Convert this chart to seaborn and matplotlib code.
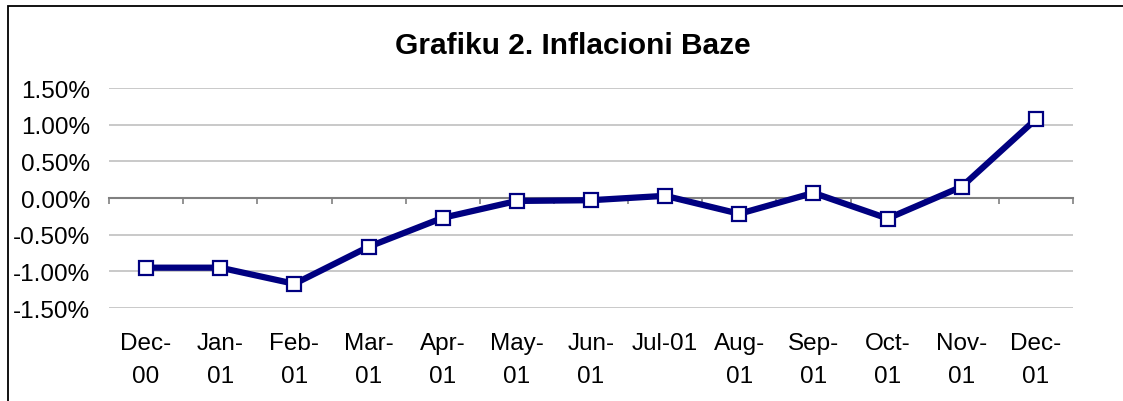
import matplotlib
matplotlib.use("Agg")
import matplotlib.pyplot as plt
import seaborn as sns
import pandas as pd
import numpy as np
from matplotlib.ticker import FuncFormatter
from matplotlib.patches import Rectangle

# ---- data ----
months = ["Dec-\n00", "Jan-\n01", "Feb-\n01", "Mar-\n01", "Apr-\n01", "May-\n01",
          "Jun-\n01", "Jul-01", "Aug-\n01", "Sep-\n01", "Oct-\n01", "Nov-\n01", "Dec-\n01"]
values = [-0.95, -0.95, -1.17, -0.665, -0.27, -0.04, -0.03, 0.03,
          -0.215, 0.07, -0.28, 0.155, 1.075]
y_ticks = [-1.5, -1.0, -0.5, 0.0, 0.5, 1.0, 1.5]
title = "Grafiku 2. Inflacioni Baze"

df = pd.DataFrame({"pos": np.arange(len(months)), "value": values})

sns.set_theme(style="white")
plt.rcParams['font.family'] = ['Liberation Sans', 'DejaVu Sans']
plt.rcParams['text.color'] = 'black'

fig = plt.figure(figsize=(11.23, 4.02), dpi=100)
ax = fig.add_axes([0.0971, 0.2313, 0.8584, 0.5473])

sns.lineplot(data=df, x="pos", y="value", ax=ax, color="#000080", linewidth=4.5,
             marker="s", markersize=10, markerfacecolor="white",
             markeredgecolor="#000080", markeredgewidth=1.6, zorder=5)

ax.set_xlim(-0.5, len(months) - 0.5)
ax.set_ylim(-1.5, 1.5)
ax.set_yticks(y_ticks)
ax.yaxis.set_major_formatter(FuncFormatter(lambda v, p: f"{v:.2f}%"))
ax.grid(axis='y', color='#c0c0c0', linewidth=1.2)
ax.grid(axis='x', visible=False)
ax.set_axisbelow(True)
ax.set_xlabel("")
ax.set_ylabel("")

for s in ["left", "right", "top"]:
    ax.spines[s].set_visible(False)
ax.spines["bottom"].set_position(("data", 0))
ax.spines["bottom"].set_color("#808080")
ax.spines["bottom"].set_linewidth(1.5)
ax.spines["bottom"].set_zorder(2)

ax.set_xticks(np.arange(-0.5, len(months), 1.0))
ax.tick_params(axis='x', bottom=True, direction='out', length=4.5, width=1.2,
               color='#808080', labelbottom=False)
ax.tick_params(axis='y', left=False, length=0, pad=13.5, labelsize=17.5, labelcolor='black')

secax = ax.secondary_xaxis('bottom')
secax.set_xticks(np.arange(len(months)), labels=months)
secax.tick_params(length=0, pad=17.5, labelsize=17.5, labelcolor='black')
secax.spines['bottom'].set_visible(False)
for lbl in secax.get_xticklabels():
    lbl.set_linespacing(1.6)

fig.text(0.51, 0.886, title, ha='center', va='center', fontsize=21.5,
         fontweight='bold', color='black')

fig.patches.append(Rectangle((8 / 1123, -0.1), 1.2, 1.1 + (1 - 7.5 / 402) - 1.0,
                             transform=fig.transFigure, fill=False,
                             edgecolor='black', linewidth=1.3))

fig.savefig("out.png", dpi=100)
